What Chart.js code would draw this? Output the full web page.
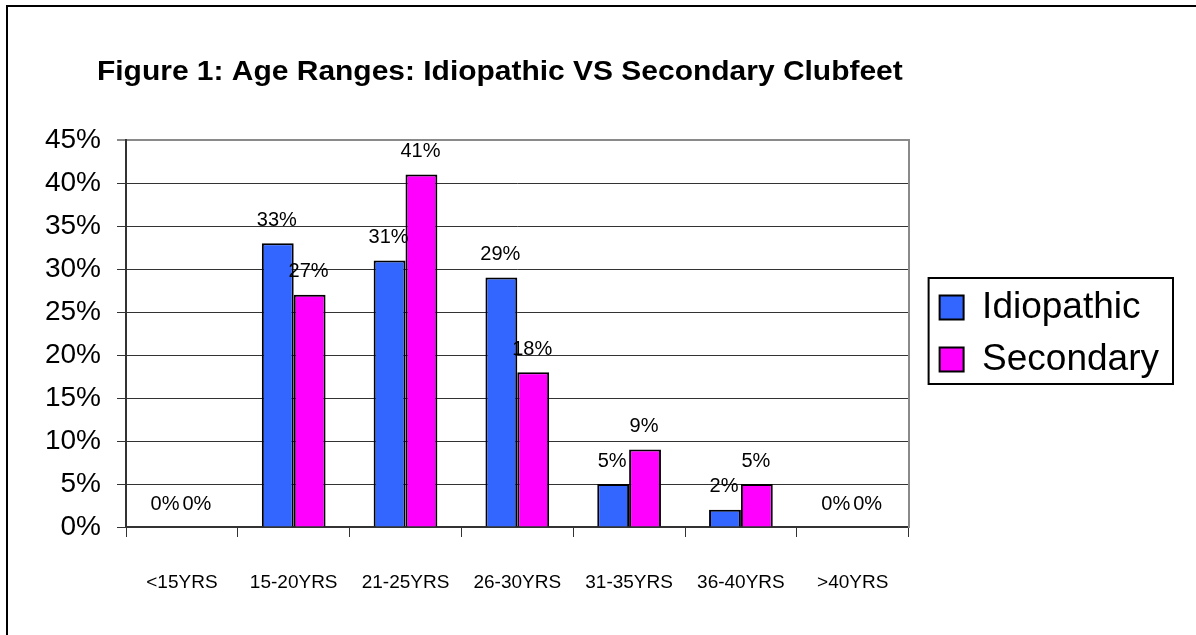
<!DOCTYPE html>
<html>
<head>
	<meta charset="utf-8">
	<title>Age Ranges: Idiopathic VS Secondary Clubfeet</title>
	<script src="https://cdn.jsdelivr.net/npm/chart.js@4.4.0/dist/chart.umd.min.js"></script>
	<style>
		body { margin: 0; background: #fff; }
		#wrap { position: relative; width: 1196px; height: 635px; overflow: hidden; }
		#frame { position: absolute; left: 6px; top: 5px; width: 1300px; height: 700px; border-left: 2px solid #000; border-top: 2px solid #000; }
		#mychart { position: absolute; left: 0; top: 0; }
	</style>
</head>
<body>

	<div id="wrap">
		<div id="frame"></div>
		<canvas id="mychart" width="1196" height="635"></canvas>
	</div>

	<script type="text/javascript">

		const chartTitle = 'Figure 1: Age Ranges: Idiopathic VS Secondary Clubfeet';
		const ageRanges = ['<15YRS', '15-20YRS', '21-25YRS', '26-30YRS', '31-35YRS', '36-40YRS', '>40YRS'];
		const idiopathic = [0, 33, 31, 29, 5, 2, 0];
		const secondary = [0, 27, 41, 18, 9, 5, 0];
		const yMax = 45;
		const yStep = 5;

		const FONT = 'Arial, "Liberation Sans", sans-serif';
		const GRID = '#333333';
		const FRAME_GRAY = '#8a8a8a';

		Chart.defaults.font.family = FONT;
		Chart.defaults.color = '#000';

		// title sits left of the plot, slightly wide like the original figure
		const titlePlugin = {
			id: 'titlePlugin',
			afterDraw(chart) {
				const ctx = chart.ctx;
				ctx.save();
				ctx.font = 'bold 28px ' + FONT;
				ctx.fillStyle = '#000';
				ctx.textAlign = 'left';
				ctx.textBaseline = 'alphabetic';
				ctx.translate(chart.chartArea.left - 29, 80);
				ctx.scale(1.07, 1);
				ctx.fillText(chartTitle, 0, 0);
				ctx.restore();
			}
		};

		// value labels above each bar
		const barLabels = {
			id: 'barLabels',
			afterDatasetsDraw(chart) {
				const ctx = chart.ctx;
				ctx.save();
				ctx.font = '20px ' + FONT;
				ctx.fillStyle = '#000';
				ctx.textAlign = 'center';
				ctx.textBaseline = 'middle';
				chart.data.datasets.forEach((ds, i) => {
					chart.getDatasetMeta(i).data.forEach((bar, j) => {
						ctx.fillText(ds.data[j] + '%', bar.x - 1, bar.y - 23);
					});
				});
				ctx.restore();
			}
		};

		// box round the legend
		const legendFrame = {
			id: 'legendFrame',
			afterDraw(chart) {
				const hb = chart.legend.legendHitBoxes;
				if (!hb || !hb.length) return;
				const left = Math.min(...hb.map(h => h.left)) - 11;
				const right = Math.max(...hb.map(h => h.left + h.width)) + 14;
				const top = hb[0].top - 11;
				const bottom = hb[hb.length - 1].top + hb[hb.length - 1].height + 6;
				const ctx = chart.ctx;
				ctx.save();
				ctx.strokeStyle = '#000';
				ctx.lineWidth = 2;
				ctx.strokeRect(left, top, right - left, bottom - top);
				ctx.restore();
			}
		};

		const ctx = document.getElementById('mychart').getContext('2d');

		const myChart = new Chart(ctx, {
			type: 'bar',
			data: {
				labels: ageRanges,
				datasets: [{
					label: 'Idiopathic',
					data: idiopathic,
					backgroundColor: '#3366ff',
					borderColor: '#000',
					borderWidth: 2
				}, {
					label: 'Secondary',
					data: secondary,
					backgroundColor: '#ff00ff',
					borderColor: '#000',
					borderWidth: 2
				}]
			},
			options: {
				responsive: false,
				animation: false,
				categoryPercentage: 0.57,
				barPercentage: 1,
				layout: { padding: { top: 140, left: 0, right: 27, bottom: 0 } },
				plugins: {
					legend: {
						position: 'right',
						fullSize: false,
						maxWidth: 300,
						labels: {
							boxWidth: 24,
							boxHeight: 24,
							padding: 15,
							color: '#000',
							font: { size: 37 }
						}
					},
					tooltip: { enabled: false }
				},
				scales: {
					x: {
						grid: {
							drawOnChartArea: false,
							tickLength: 10,
							color: GRID,
							lineWidth: 1
						},
						border: { color: GRID, width: 2 },
						ticks: { font: { size: 19 }, color: '#000', padding: 34, maxRotation: 0 },
						afterFit(scale) { scale.height = 108; }
					},
					y: {
						min: 0,
						max: yMax,
						ticks: {
							stepSize: yStep,
							font: { size: 28 },
							color: '#000',
							padding: 16,
							callback: v => v + '%'
						},
						grid: {
							tickLength: 9,
							color: c => c.tick && c.tick.value === yMax ? FRAME_GRAY : GRID,
							lineWidth: c => c.tick && c.tick.value === yMax ? 2 : 1
						},
						border: { color: GRID, width: 2 },
						afterFit(scale) { scale.width = 126; }
					},
					frameRight: {
						position: 'right',
						grid: { display: false },
						ticks: { display: false },
						border: { color: FRAME_GRAY, width: 2 },
						afterFit(scale) { scale.width = 16; }
					}
				}
			},
			plugins: [titlePlugin, barLabels, legendFrame]
		});

	</script>

</body>
</html>
